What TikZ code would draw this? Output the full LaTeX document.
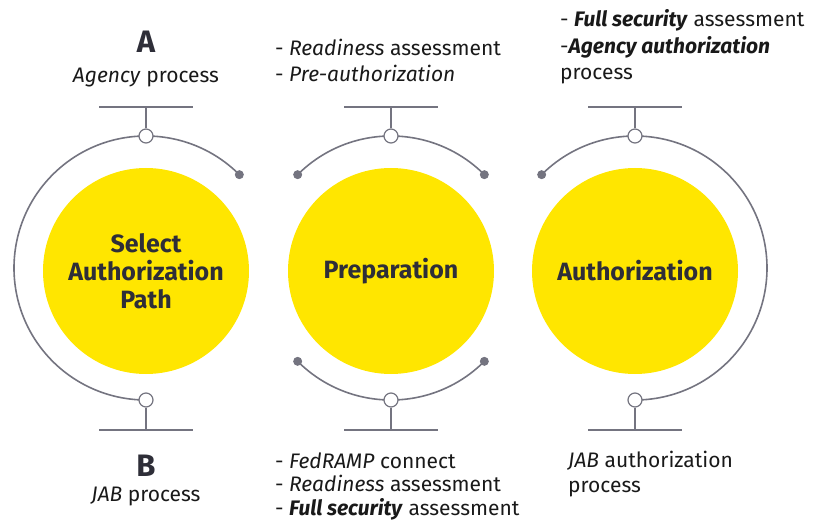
\documentclass[tikz,border=0pt]{standalone}
\usepackage{fontspec}
\setmainfont{Fira Sans}
\definecolor{eyyellow}{RGB}{255, 230, 0}
\definecolor{eygray}{RGB}{116, 116, 128}
\definecolor{textdark}{RGB}{46, 46, 56}
\usetikzlibrary{positioning, calc}

\tikzset{
  phase/.style={circle, fill=eyyellow, minimum size=206pt, inner sep=0pt, align=center,
                font=\fontsize{25}{28}\selectfont\bfseries, text=textdark},
  ring/.style={draw=eygray, line width=1.6pt},
  joint/.style={circle, draw=eygray, fill=white, line width=1.2pt, minimum size=14pt, inner sep=0pt},
  tipdot/.style={circle, fill=eygray, minimum size=9pt, inner sep=0pt},
  note/.style={align=left, anchor=base west, inner sep=0pt, text=black!90,
               font=\fontsize{21}{26.5}\selectfont},
  letter/.style={anchor=base, inner sep=0pt, text=textdark,
                 font=\fontsize{31}{32}\selectfont\bfseries}
}

\begin{document}
\begin{tikzpicture}[x=1pt, y=1pt]
  \useasboundingbox (0,0) rectangle (822,523);

  % yellow phases
  \node[phase] (sel) at (146,252) {Select\\Authorization\\Path};
  \node[phase] (prep) at (391,252) {Preparation};
  \node[phase] (auth) at (635,252) {Authorization};

  % ring centres
  \coordinate (c1) at (146,255);
  \coordinate (c2) at (391,255);
  \coordinate (c3) at (635,255);

  % rings
  \draw[ring] ($(c1)+(45:132)$) arc[start angle=45, end angle=270, radius=132];
  \draw[ring] ($(c2)+(45:132)$) arc[start angle=45, end angle=135, radius=132];
  \draw[ring] ($(c2)+(225:132)$) arc[start angle=225, end angle=315, radius=132];
  \draw[ring] ($(c3)+(135:132)$) arc[start angle=135, end angle=-90, radius=132];

  \node[tipdot] (d1) at ($(c1)+(45:132)$) {};
  \node[tipdot] (d2a) at ($(c2)+(45:132)$) {};
  \node[tipdot] (d2b) at ($(c2)+(135:132)$) {};
  \node[tipdot] (d2c) at ($(c2)+(225:132)$) {};
  \node[tipdot] (d2d) at ($(c2)+(315:132)$) {};
  \node[tipdot] (d3) at ($(c3)+(135:132)$) {};

  % joints and bars
  \foreach \i/\x in {1/146, 2/391, 3/635} {
    \node[joint] (jt\i) at (\x,387) {};
    \node[joint] (jb\i) at (\x,123) {};
    \coordinate (bt\i) at (\x,416);
    \coordinate (bb\i) at (\x,93);
    \draw[ring] (jt\i) -- (bt\i);
    \draw[ring] (jb\i) -- (bb\i);
    \draw[ring] ([xshift=-47pt]bt\i) -- ([xshift=47pt]bt\i);
    \draw[ring] ([xshift=-47pt]bb\i) -- ([xshift=47pt]bb\i);
  }

  % labels (multi-line notes sit on their last baseline)
  \node[letter] (la) at (146,470) {A};
  \node[note, anchor=base] (pa) at (146,440) {\textit{Agency} process};
  \node[letter] (lb) at (146,47) {B};
  \node[note, anchor=base] (pb) at (146,22) {\textit{JAB} process};

  \node[note] (n2t) at (275,441) {- \textit{Readiness} assessment\\- \textit{Pre-authorization}};
  \node[note, font=\fontsize{21}{23.5}\selectfont] (n2b) at (275,8)
    {- \textit{FedRAMP} connect\\- \textit{Readiness} assessment\\- \textbf{\textit{Full security}} assessment};

  \node[note] (n3t) at (560,443)
    {- \textbf{\textit{Full security}} assessment\\-\textbf{\textit{Agency authorization}}\\process};
  \node[note, font=\fontsize{21}{24.5}\selectfont] (n3b) at (568,31) {\textit{JAB} authorization\\process};
\end{tikzpicture}
\end{document}
